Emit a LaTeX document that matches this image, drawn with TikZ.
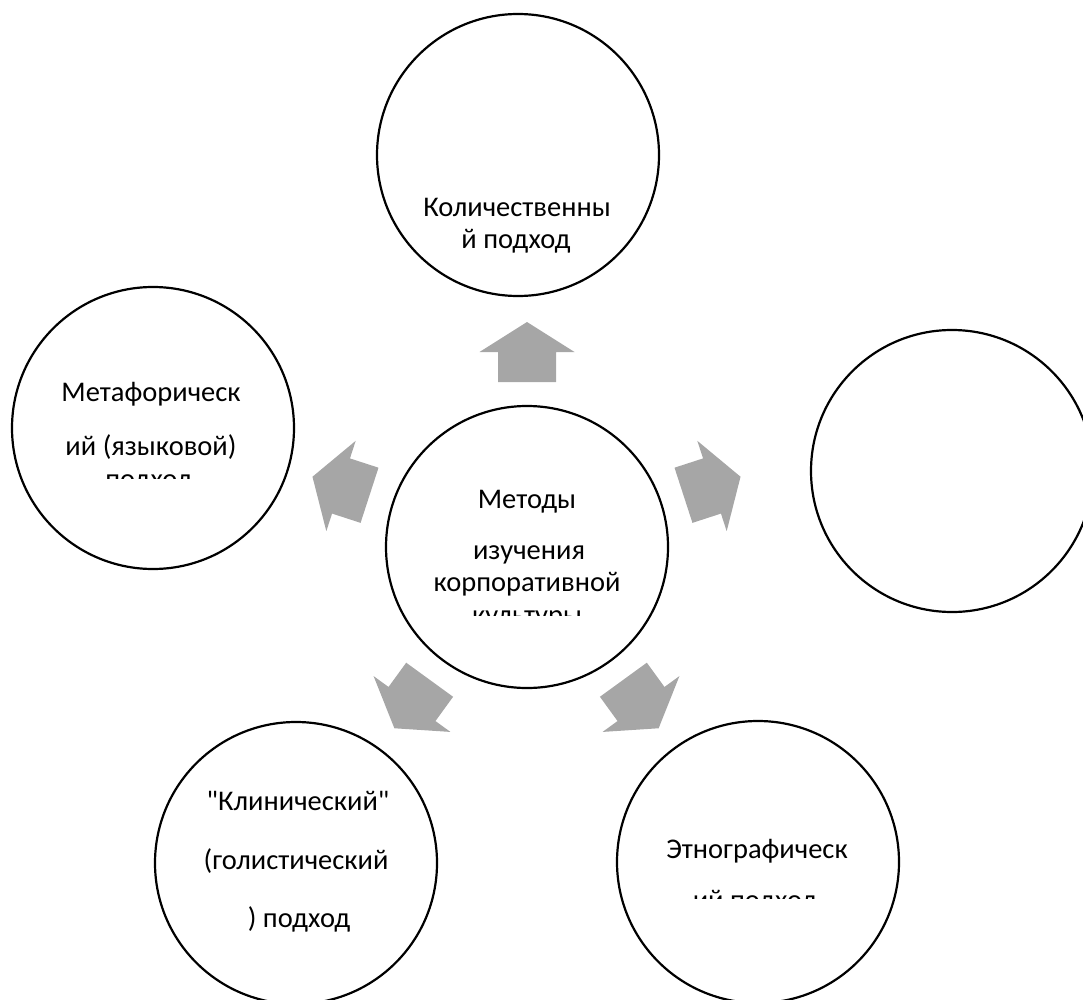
\documentclass[tikz,border=0pt]{standalone}
\usepackage{fontspec}
\newfontfamily\lblfont{Carlito}
\definecolor{arrowgray}{RGB}{166,166,166}
\tikzset{
  bubble/.style={circle, draw=black, line width=2.2pt, minimum size=282pt, inner sep=0pt},
  lbl/.style={anchor=base, inner sep=0pt, font=\lblfont\fontsize{28.5}{32}\selectfont},
  outarrow/.pic={\fill[arrowgray] (30,0) -- (0,47.5) -- (0,29) -- (-30,29) -- (-30,-29) -- (0,-29) -- (0,-47.5) -- cycle;}
}
\begin{document}
\begin{tikzpicture}[x=1pt,y=-1pt]
\useasboundingbox (0,0) rectangle (1083,1000);
\clip (0,0) rectangle (1083,1000);
% circles
\node[bubble] (mid) at (527,547) {};
\node[bubble] (top) at (518,155) {};
\node[bubble] (left) at (153,428) {};
\node[bubble] (right) at (952,471) {};
\node[bubble] (bl) at (296,863) {};
\node[bubble] (br) at (758,862) {};
% block arrows
\pic (aT) [rotate=90] at (527,352) {outarrow};
\pic (aL) [rotate=162] at (341,486) {outarrow};
\pic (aR) [rotate=18] at (712,486) {outarrow};
\pic (aBL) [rotate=234] at (412,704) {outarrow};
\pic (aBR) [rotate=306] at (641,704) {outarrow};
% center text
\node[lbl] (m1) at (527,508) {Методы};
\node[lbl] (m2) at (529,559) {изучения};
\node[lbl] (m3) at (527,591) {корпоративной};
\begin{scope}
\clip (380,560) rectangle (680,615);
\node[lbl] (m4) at (527,624) {культуры};
\end{scope}
% top text
\node[lbl] (t1) at (517,217) {Количественны};
\node[lbl] (t2) at (516,248) {й подход};
% left text
\node[lbl] (l1) at (151,401) {Метафорическ};
\node[lbl] (l2) at (151,455) {ий (языковой)};
\begin{scope}
\clip (0,430) rectangle (300,478);
\node[lbl] (l3) at (149,488) {подход};
\end{scope}
% bottom-left text
\node[lbl] (b1) at (298,810) {"Клинический"};
\node[lbl] (b2) at (296,869) {(голистический};
\node[lbl] (b3) at (299,927) {) подход};
% bottom-right text
\node[lbl] (r1) at (757,858) {Этнографическ};
\begin{scope}
\clip (600,862) rectangle (900,898);
\node[lbl] (r2) at (755,909) {ий подход};
\end{scope}
\end{tikzpicture}
\end{document}
